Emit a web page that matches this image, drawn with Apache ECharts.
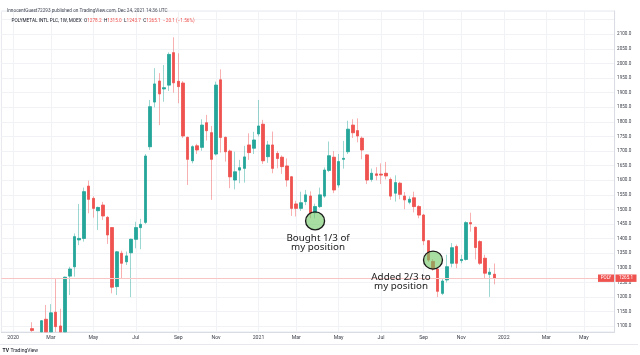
<!DOCTYPE html>
<html><head><meta charset="utf-8">
<script src="https://cdn.jsdelivr.net/npm/echarts@6/dist/echarts.min.js"></script>
<style>html,body{margin:0;padding:0;background:#fff}#c{width:640px;height:355px}</style>
</head><body><div id="c"></div><script>
// ---- data (weekly candles, POLY MOEX); values below the visible floor (~1081) are cut at the pane edge ----
const firstWeek = '2019-12-23';   // Monday of first category
const weekCount = 130;
const dataStart = 6;              // category index of first candle (2020-02-03)
const open  = [1092,null,1081,1124,1081,1148,1101,1081,1272,1304,1396,1401,1580,1538,1496,1515,1473,1438,1236,1350,1321,1352,1398,1438,1456,1715,1868,1940,1913,1926,2037,1939,1933,1747,1667,1718,1713,1797,1763,1690,1944,1747,1700,1601,1635,1641,1721,1710,1759,1792,1681,1721,1692,1679,1649,1612,1519,1504,1527,1546,1489,1510,1546,1634,1679,1584,1672,1698,1789,1770,1744,1687,1603,1622,1621,1624,1603,1556,1590,1546,1525,1540,1510,1481,1393,1322,1296,1213,1259,1316,1373,1325,1329,1455,1439,1390,1333,1278,1278.2];
const close = [1086,null,1119,1081,1146,1099,1081,1268,1296,1407,1401,1561,1535,1504,1507,1478,1413,1234,1355,1316,1341,1398,1438,1449,1683,1852,1930,1896,1917,2031,1934,1921,1752,1672,1715,1704,1789,1770,1672,1926,1747,1698,1612,1629,1643,1680,1695,1738,1786,1667,1721,1641,1675,1647,1601,1504,1504,1523,1550,1487,1510,1550,1635,1684,1567,1664,1675,1775,1763,1752,1704,1601,1624,1617,1618,1615,1546,1592,1552,1533,1535,1510,1481,1393,1327,1297,1220,1255,1304,1369,1316,1329,1455,1451,1370,1316,1282,1285.2,1265.1];
const low   = [1081,null,1081,1081,1081,1081,1081,1081,1207,1270,1378,1390,1487,1472,1430,1464,1382,1213,1207,1264,1310,1200,1367,1364,1450,1704,1850,1789,1869,1906,1900,1864,1745,1584,1658,1690,1701,1736,1533,1685,1695,1664,1573,1569,1590,1592,1670,1690,1750,1656,1660,1624,1641,1622,1578,1478,1476,1495,1515,1470,1470,1505,1540,1628,1556,1575,1640,1690,1745,1730,1672,1587,1595,1600,1587,1603,1533,1527,1535,1501,1518,1490,1470,1378,1320,1290,1200,1207,1250,1302,1299,1316,1325,1424,1329,1310,1264,1201,1243.7];
const high  = [1114,null,1121,1173,1176,1264,1160,1270,1304,1418,1519,1575,1599,1545,1510,1526,1478,1440,1358,1359,1356,1400,1458,1468,1690,1875,1984,1967,1995,2038,2090,2035,1940,1750,1720,1725,1809,1824,1786,1938,1980,1750,1705,1698,1670,1718,1761,1766,1875,1807,1735,1767,1700,1685,1675,1615,1530,1561,1567,1562,1520,1575,1644,1733,1700,1690,1735,1804,1809,1812,1750,1690,1640,1645,1658,1663,1610,1617,1595,1560,1545,1561,1515,1485,1395,1330,1300,1262,1345,1385,1380,1345,1460,1489,1442,1395,1345,1300,1315];
const tickWeeks  = [2,10,19,28,37,45,54,62,71,80,89,97,106,115,123];
const tickLabels = ['2020','Mar','May','Jul','Sep','Nov','2021','Mar','May','Jul','Sep','Nov','2022','Mar','May'];
const lastPrice = 1265.1;
const notes = [
  {week:'2021-03-29', price:1461, text:'Bought 1/3 of\nmy position', dx:3},
  {week:'2021-09-20', price:1327, text:'Added 2/3 to\nmy position', dx:-32}
];

// ---- build categories ----
const weeks = [];
let t = Date.parse(firstWeek + 'T00:00:00Z');
for (let i = 0; i < weekCount; i++) { weeks.push(new Date(t).toISOString().slice(0,10)); t += 7*864e5; }
const has = k => k>=0 && k<open.length && open[k]!=null;
const full = weeks.map((w,i)=>{const k=i-dataStart; return has(k)?[open[k],close[k],low[k],high[k]]:'-';});
const bodies = weeks.map((w,i)=>{const k=i-dataStart; return has(k)?[open[k],close[k],Math.min(open[k],close[k]),Math.max(open[k],close[k])]:'-';});

const UP='#26a69a', DN='#ef5350';
const chart = echarts.init(document.getElementById('c'), null, {renderer:'canvas'});
const showTick = i => tickWeeks.indexOf(i) >= 0;
chart.setOption({
  animation:false,
  backgroundColor:'#ffffff',
  textStyle:{fontFamily:'Roboto'},
  title:[
    {text:'InnocentGuest72293 published on TradingView.com, Dec 24, 2021 14:36 UTC', left:2, top:3,
     textStyle:{fontSize:4.7, fontWeight:'normal', color:'#4a4e5a', fontFamily:'Roboto'}},
    {text:'{n|POLYMETAL INTL PLC, 1W, MOEX}  {k|O}{v|1278.2}  {k|H}{v|1315.0}  {k|L}{v|1243.7}  {k|C}{v|1265.1}  {v|\u221220.1 (\u22121.56%)}',
     left:6.5, top:13.8,
     textStyle:{fontSize:4.7, fontWeight:'normal', fontFamily:'Roboto',
       rich:{n:{fontSize:4.7,color:'#131722',fontFamily:'Roboto'},k:{fontSize:4.7,color:'#131722',fontFamily:'Roboto'},v:{fontSize:4.7,color:DN,fontFamily:'Roboto'}}}}
  ],
  grid:{left:1.4, right:25.4, top:11, bottom:23, show:true, borderColor:'#e6e8ee', borderWidth:1},
  xAxis:{type:'category', data:weeks, boundaryGap:true,
    axisLine:{show:true, lineStyle:{color:'#d9dce3'}}, axisTick:{show:false},
    axisLabel:{interval:(i)=>showTick(i), formatter:(v,i)=>{const j=tickWeeks.indexOf(i);return j>=0?tickLabels[j]:'';},
      fontSize:5.2, color:'#3c404b', margin:3.5, fontFamily:'Roboto'},
    splitLine:{show:true, interval:(i)=>showTick(i), alignWithLabel:true, lineStyle:{color:'#f0f2f6', width:1}}},
  yAxis:{type:'value', position:'right', min:1080.5, max:2179.8, splitNumber:22, minInterval:50, maxInterval:50,
    axisLine:{show:true, lineStyle:{color:'#d9dce3'}}, axisTick:{show:false},
    axisLabel:{showMinLabel:false, showMaxLabel:false, fontSize:4.6, color:'#3c404b', margin:2.5, fontFamily:'Roboto',
      formatter:v=> v>2100 ? '' : v.toFixed(1)},
    splitLine:{show:true, lineStyle:{color:'#f0f2f6', width:1}}},
  series:[
    {type:'candlestick', name:'wicks', data:full, barWidth:3, clip:true, silent:true,
     itemStyle:{color:'rgba(38,166,154,0.45)', color0:'rgba(239,83,80,0.45)', borderColor:'rgba(38,166,154,0.45)', borderColor0:'rgba(239,83,80,0.45)', borderWidth:1},
     markLine:{silent:true, symbol:['none','none'], label:{show:false}, lineStyle:{color:'#f8c4c4', width:1, type:'solid'},
       data:[{yAxis:lastPrice}]}},
    {type:'candlestick', name:'bodies', data:bodies, barWidth:3, clip:true, silent:true,
     itemStyle:{color:UP, color0:DN, borderColor:UP, borderColor0:DN, borderWidth:0.6},
     markPoint:{silent:true, data:notes.map(n=>({coord:[n.week,n.price], symbol:'circle', symbolSize:[19,18],
        itemStyle:{color:'rgba(110,200,100,0.6)', borderColor:'#1b1b1b', borderWidth:1.3},
        label:{show:true, position:'bottom', distance:2.5, offset:[n.dx,0], formatter:n.text, fontSize:9.8, lineHeight:9.6,
          color:'#1a1a1a', fontFamily:'Noto Sans', align:'center'}}))}}
  ]
});
const py = chart.convertToPixel({yAxisIndex:0}, lastPrice);
chart.setOption({graphic:[
  {type:'rect', shape:{x:598, y:py-3.6, width:16, height:7.4}, style:{fill:DN}, z:100},
  {type:'text', x:606, y:py, style:{text:'POLY', fill:'#fff', fontSize:4.5, fontFamily:'Roboto', align:'center', verticalAlign:'middle'}, z:101},
  {type:'rect', shape:{x:615.5, y:py-3.6, width:21, height:7.4}, style:{fill:DN}, z:100},
  {type:'text', x:626, y:py, style:{text:'1265.1', fill:'#fff', fontSize:4.6, fontFamily:'Roboto', align:'center', verticalAlign:'middle'}, z:101},
  {type:'line', shape:{x1:0, y1:344.5, x2:638, y2:344.5}, style:{stroke:'#e6e8ee', lineWidth:1}},
  {type:'text', x:2.5, y:350.5, style:{text:'TV', fill:'#131722', fontSize:5, fontWeight:'bold', fontFamily:'Roboto', verticalAlign:'middle'}},
  {type:'text', x:10.5, y:350.5, style:{text:'TradingView', fill:'#131722', fontSize:5, fontFamily:'Roboto', verticalAlign:'middle'}}
]});
</script></body></html>
